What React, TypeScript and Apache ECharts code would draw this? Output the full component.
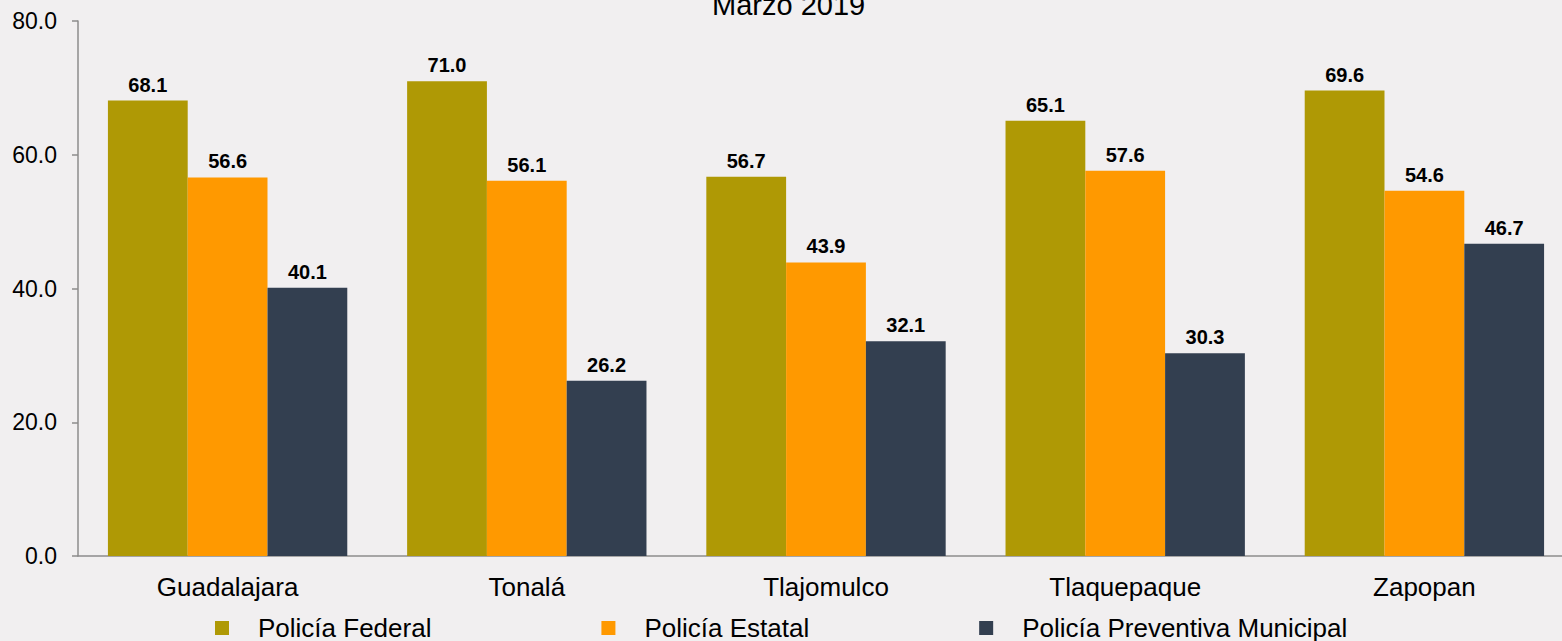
import React, { useEffect, useRef } from "react";
import * as echarts from "echarts";

const categories = ["Guadalajara", "Tonalá", "Tlajomulco", "Tlaquepaque", "Zapopan"];
const seriesNames = ["Policía Federal", "Policía Estatal", "Policía Preventiva Municipal"];
const federal = [68.1, 71.0, 56.7, 65.1, 69.6];
const estatal = [56.6, 56.1, 43.9, 57.6, 54.6];
const municipal = [40.1, 26.2, 32.1, 30.3, 46.7];
const colors = ["#AF9905", "#FF9900", "#333F50"];
const titleText = "Marzo 2019";

const FONT = "'Liberation Sans', Arial, sans-serif";

export default function App() {
  const ref = useRef<HTMLDivElement>(null);
  useEffect(() => {
    if (!ref.current) return;
    const chart = echarts.init(ref.current, null, { renderer: "svg" });
    const values = [federal, estatal, municipal];
    chart.setOption({
      animation: false,
      backgroundColor: "#F1EFF0",
      textStyle: { fontFamily: FONT },
      title: {
        text: titleText,
        left: 712,
        top: -10,
        padding: 0,
        textStyle: { fontFamily: FONT, fontSize: 29, fontWeight: "normal", color: "#000" },
      },
      legend: {
        left: 215,
        top: 615,
        padding: 0,
        itemGap: 170,
        itemWidth: 38,
        itemHeight: 14,
        icon: "path://M0,0H14V14H0Z M38,0L38,14",
        textStyle: { fontFamily: FONT, fontSize: 26, color: "#000" },
        data: seriesNames,
      },
      grid: { left: 78, width: 1496, top: 21, bottom: 85, containLabel: false },
      xAxis: {
        type: "category",
        data: categories,
        axisLine: { show: true, lineStyle: { color: "#8C8C8C", width: 1.5 } },
        axisTick: { show: false },
        axisLabel: { fontFamily: FONT, fontSize: 26, color: "#000", margin: 18 },
      },
      yAxis: {
        type: "value",
        min: 0,
        max: 80,
        interval: 20,
        splitLine: { show: false },
        axisLine: { show: true, lineStyle: { color: "#8C8C8C", width: 1.5 } },
        axisTick: { show: true, length: 6, lineStyle: { color: "#8C8C8C", width: 1.5 } },
        axisLabel: {
          fontFamily: FONT,
          fontSize: 23,
          color: "#000",
          margin: 21,
          formatter: (v: number) => v.toFixed(1),
        },
      },
      series: seriesNames.map((name, i) => ({
        name,
        type: "bar",
        data: values[i],
        barGap: "0%",
        barCategoryGap: "20%",
        itemStyle: { color: colors[i] },
        label: {
          show: true,
          position: "top",
          distance: 6,
          fontFamily: FONT,
          fontSize: 20,
          fontWeight: "bold",
          color: "#000",
          formatter: (p: any) => Number(p.value).toFixed(1),
        },
      })),
    });
    return () => chart.dispose();
  }, []);
  return (
    <div
      style={{
        position: "absolute",
        left: 0,
        top: 0,
        width: 1562,
        height: 641,
        overflow: "hidden",
        background: "#F1EFF0",
      }}
    >
      <div ref={ref} style={{ width: 1580, height: 641 }} />
    </div>
  );
}
